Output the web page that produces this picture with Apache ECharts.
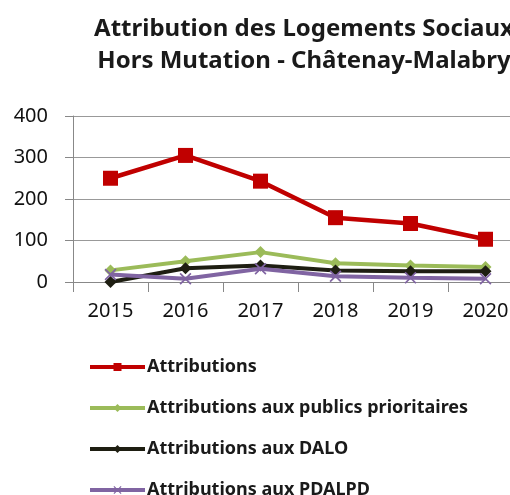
<!DOCTYPE html>
<html>
<head>
<meta charset="utf-8">
<script src="https://cdn.jsdelivr.net/npm/echarts@6/dist/echarts.min.js"></script>
<style>
  html, body { margin: 0; padding: 0; background: #fff; }
  #chart { width: 510px; height: 495px; }
</style>
</head>
<body>
<div id="chart"></div>
<script>
var years = ["2015", "2016", "2017", "2018", "2019", "2020"];
var yTicks = [0, 100, 200, 300, 400];
var attributions = [250, 305, 243, 155, 141, 103];
var publicsPrioritaires = [28, 50, 72, 45, 40, 36];
var dalo = [0, 33, 40, 28, 26, 26];
var pdalpd = [18, 8, 32, 14, 10, 8];

var chart = echarts.init(document.getElementById("chart"));
var font = "Noto Sans";
var crossPath = "path://M0,1L1,0L5,4L9,0L10,1L6,5L10,9L9,10L5,6L1,10L0,9L4,5Z";

var option = {
  animation: false,
  title: {
    text: "Attribution des Logements Sociaux\nHors Mutation - Châtenay-Malabry",
    left: 299,
    top: 8,
    textAlign: "center",
    textStyle: {
      fontFamily: font,
      fontSize: 24,
      fontWeight: "bold",
      color: "#1a1a1a",
      lineHeight: 32
    }
  },
  legend: {
    orient: "vertical",
    left: 88,
    top: 357,
    height: 200,
    padding: 0,
    itemWidth: 55,
    itemHeight: 10,
    itemGap: 21,
    lineStyle: { width: 4 },
    textStyle: {
      fontFamily: font,
      fontSize: 18,
      fontWeight: "bold",
      color: "#1a1a1a",
      lineHeight: 20,
      padding: [0, 0, 0, -3]
    },
    data: ["Attributions", "Attributions aux publics prioritaires", "Attributions aux DALO", "Attributions aux PDALPD"]
  },
  grid: {
    left: 73,
    top: 116,
    width: 450,
    bottom: 213,
    outerBoundsMode: "none"
  },
  xAxis: {
    type: "category",
    data: years,
    boundaryGap: true,
    axisLine: { lineStyle: { color: "#888", width: 1 } },
    axisTick: { show: true, length: 10, lineStyle: { color: "#888" } },
    axisLabel: { fontFamily: font, fontSize: 20, color: "#111", margin: 19 }
  },
  yAxis: {
    type: "value",
    min: yTicks[0],
    max: yTicks[yTicks.length - 1],
    interval: 100,
    axisLine: { show: true, lineStyle: { color: "#888", width: 1 } },
    axisTick: { show: true, length: 8, lineStyle: { color: "#888" } },
    axisLabel: { fontFamily: font, fontSize: 20, color: "#111", margin: 25 },
    splitLine: { lineStyle: { color: "#999", width: 1 } }
  },
  series: [
    {
      name: "Attributions",
      type: "line",
      data: attributions,
      symbol: "rect",
      symbolSize: 15,
      lineStyle: { color: "#C00000", width: 4.5 },
      itemStyle: { color: "#C00000" },
      z: 5
    },
    {
      name: "Attributions aux publics prioritaires",
      type: "line",
      data: publicsPrioritaires,
      symbol: "diamond",
      symbolSize: 12,
      lineStyle: { color: "#9BBB59", width: 4 },
      itemStyle: { color: "#9BBB59" },
      z: 2
    },
    {
      name: "Attributions aux DALO",
      type: "line",
      data: dalo,
      symbol: "diamond",
      symbolSize: 12,
      lineStyle: { color: "#1E1E12", width: 4 },
      itemStyle: { color: "#1E1E12" },
      z: 3
    },
    {
      name: "Attributions aux PDALPD",
      type: "line",
      data: pdalpd,
      symbol: crossPath,
      symbolSize: 12,
      lineStyle: { color: "#8064A2", width: 4 },
      itemStyle: { color: "#8064A2" },
      z: 4
    }
  ]
};
chart.setOption(option);
</script>
</body>
</html>
